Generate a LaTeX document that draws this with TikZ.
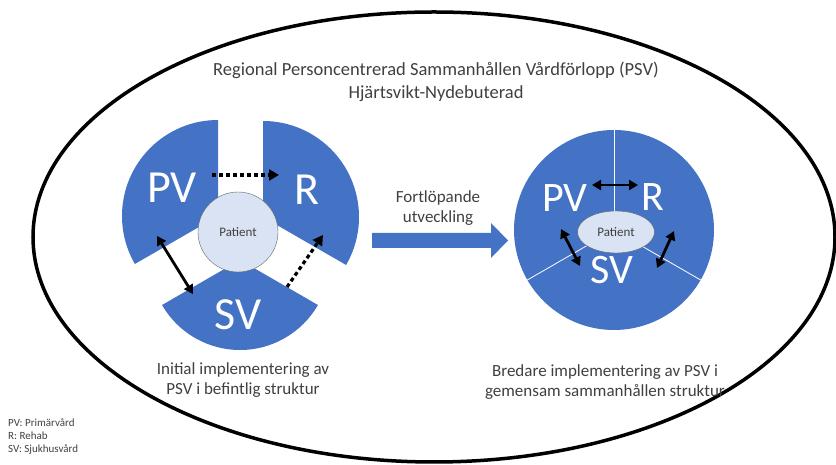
\documentclass[tikz,border=0pt]{standalone}
\usepackage{fontspec}
\setmainfont{Carlito}
\usetikzlibrary{positioning}
\usetikzlibrary{arrows.meta}
\usetikzlibrary{shapes.geometric}
\definecolor{psvblue}{HTML}{4472C4}
\definecolor{patientfill}{HTML}{DAE3F3}
\definecolor{textgray}{HTML}{404040}
\tikzset{
        textnode/.style={align=center,inner sep=0pt,text=textgray},
        % Headings and captions
        node_caption/.style={textnode, font=\fontsize{17}{20}\selectfont},
        % White letters in the blue parts
        node_sector/.style={textnode, text=white, font=\fontsize{46}{46}\selectfont},
        node_sector_small/.style={node_sector, font=\fontsize{42}{42}\selectfont},
        % Patient in the middle
        node_patient/.style={textnode, draw=gray!80!black, fill=patientfill, font=\fontsize{13}{14}\selectfont},
        % Links between the parts
        link_solid/.style={black, line width=2.8pt, {Triangle[length=9pt,width=10pt]}-{Triangle[length=9pt,width=10pt]}},
        link_dotted/.style={black, line width=3.2pt, dash pattern=on 4pt off 3pt, -{Triangle[length=10pt,width=11pt]}}
}
\begin{document}
\begin{tikzpicture}[x=1pt, y=1pt]
            \useasboundingbox (0,0) rectangle (836,465);
            % outer frame
            \node[ellipse, draw=black, line width=3.5pt, inner sep=0pt,
                  minimum width=802pt, minimum height=450pt] (frame) at (434,228) {};
            \node[textnode, font=\fontsize{18.5}{23}\selectfont] (title) at (436,383.5)
                {Regional Personcentrerad Sammanhållen Vårdförlopp (PSV)\\Hjärtsvikt-Nydebuterad};

            % left: separate parts
            \fill[psvblue] (218,249) -- ++(90:96) arc[start angle=90, end angle=210, radius=96] -- cycle;
            \fill[psvblue] (263,248) -- ++(-30:96) arc[start angle=-30, end angle=90, radius=96] -- cycle;
            \fill[psvblue] (240,205) -- ++(210:90) arc[start angle=210, end angle=330, radius=90] -- cycle;
            \node[node_patient, circle, minimum size=80pt] (patient_left) at (238,233) {Patient};
            \node[node_sector] (pv_left) at (172,277) {PV};
            \node[node_sector] (r_left) at (307,275) {R};
            \node[node_sector] (sv_left) at (238,150) {SV};
            \coordinate (pv_r_start) at (212,290);
            \coordinate (pv_r_end) at (279,290);
            \coordinate (pv_sv_start) at (157,229);
            \coordinate (pv_sv_end) at (193,171);
            \coordinate (sv_r_start) at (287,178);
            \coordinate (sv_r_end) at (323,230);
            \draw[link_dotted] (pv_r_start) -- (pv_r_end);
            \draw[link_solid] (pv_sv_start) -- (pv_sv_end);
            \draw[link_dotted] (sv_r_start) -- (sv_r_end);
            \node[node_caption] (caption_left) at (243,85)
                {Initial implementering av\\PSV i befintlig struktur};

            % middle arrow
            \fill[psvblue] (372,217) -- (491,217) -- (491,207) -- (508,224.5)
                -- (491,242) -- (491,232) -- (372,232) -- cycle;
            \node[textnode, font=\fontsize{17}{20}\selectfont] (develop) at (438,257)
                {Fortlöpande\\utveckling};

            % right: one shared circle
            \node[circle, fill=psvblue, inner sep=0pt, minimum size=200pt] (circle_right) at (614,235) {};
            \foreach \a in {90,210,330}
                \draw[white, line width=0.8pt] (circle_right.center) -- (circle_right.\a);
            \node[node_patient, ellipse, minimum width=77pt, minimum height=42pt] (patient_right) at (616,233) {Patient};
            \node[node_sector_small] (pv_right) at (565,267) {PV};
            \node[node_sector_small] (r_right) at (653,268) {R};
            \node[node_sector_small] (sv_right) at (612,195) {SV};
            \coordinate (pv_r_a) at (592,280);
            \coordinate (pv_r_b) at (638,280);
            \coordinate (pv_sv_a) at (561,236);
            \coordinate (pv_sv_b) at (580,199);
            \coordinate (r_sv_a) at (674,234);
            \coordinate (r_sv_b) at (657,197);
            \draw[link_solid] (pv_r_a) -- (pv_r_b);
            \draw[link_solid] (pv_sv_a) -- (pv_sv_b);
            \draw[link_solid] (r_sv_a) -- (r_sv_b);
            \node[node_caption] (caption_right) at (605,83)
                {Bredare implementering av PSV i\\gemensam sammanhållen struktur};

            % legend
            \node[textnode, align=left, anchor=north west, font=\fontsize{11}{13}\selectfont] (legend) at (8,46)
                {PV: Primärvård\\R: Rehab\\SV: Sjukhusvård};
        \end{tikzpicture}
\end{document}
